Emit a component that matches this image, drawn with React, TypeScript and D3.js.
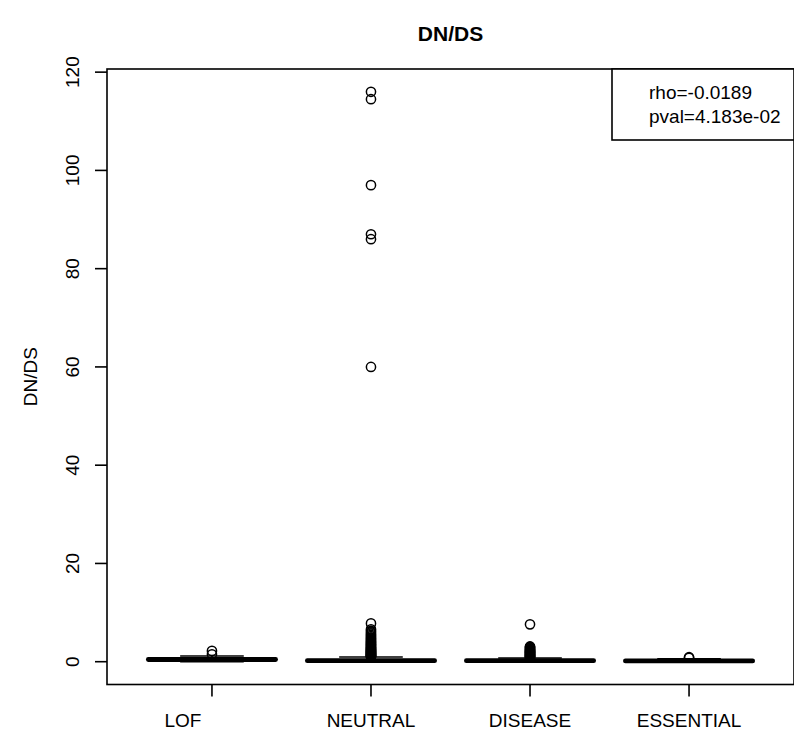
import React, { useEffect } from "react";
import * as d3 from "d3";

// Groups and their box statistics (DN/DS ratio)
const categories = ["LOF", "NEUTRAL", "DISEASE", "ESSENTIAL"];
const whiskerLow = [0.0, 0.0, 0.0, 0.0];
const quartile1 = [0.25, 0.08, 0.08, 0.06];
const medians = [0.45, 0.2, 0.2, 0.15];
const quartile3 = [0.65, 0.4, 0.35, 0.28];
const whiskerHigh = [1.15, 0.95, 0.75, 0.6];

// Outlying values per group
const outliersLOF = [2.2, 1.5];
const outliersNEUTRAL = [
  1.0, 1.08, 1.15, 1.22, 1.3, 1.38, 1.45, 1.52, 1.6, 1.7, 1.78, 1.85, 1.95,
  2.05, 2.15, 2.25, 2.32, 2.45, 2.55, 2.68, 2.8, 2.9, 3.05, 3.2, 3.35, 3.5,
  3.62, 3.8, 3.95, 4.1, 4.3, 4.5, 4.7, 4.95, 5.2, 5.45, 5.7, 6.0, 6.3, 6.6,
  7.8, 60.0, 86.0, 87.0, 97.0, 114.5, 116.0,
];
const outliersDISEASE = [
  0.85, 0.92, 1.0, 1.08, 1.15, 1.25, 1.35, 1.42, 1.5, 1.6, 1.7, 1.8, 1.9, 2.0,
  2.1, 2.2, 2.3, 2.42, 2.55, 2.7, 2.85, 3.0, 3.1, 7.6,
];
const outliersESSENTIAL = [0.8, 0.92];
const outliers = [outliersLOF, outliersNEUTRAL, outliersDISEASE, outliersESSENTIAL];

const yTicks = [0, 20, 40, 60, 80, 100, 120];
const legendLines = ["rho=-0.0189", "pval=4.183e-02"];
const title = "DN/DS";
const yLabel = "DN/DS";

const W = 794;
const H = 737;
const plot = { left: 107, right: 794, top: 69, bottom: 684.5 };
const font = "'Liberation Sans', Arial, Helvetica, sans-serif";

export default function App() {
  useEffect(() => {
    document.body.style.margin = "0";
  }, []);

  const n = categories.length;
  const xPad = 0.04 * n;
  const x = d3
    .scaleLinear()
    .domain([0.5 - xPad, n + 0.5 + xPad])
    .range([plot.left, plot.right]);

  const allVals = [...whiskerLow, ...whiskerHigh, ...outliers.flat()];
  const [ymin, ymax] = d3.extent(allVals) as [number, number];
  const yPad = 0.04 * (ymax - ymin);
  const y = d3
    .scaleLinear()
    .domain([ymin - yPad, ymax + yPad])
    .range([plot.bottom, plot.top]);

  const boxHalf = x(1.4) - x(1);
  const stapleHalf = boxHalf / 2;
  const sw = 1.6;

  const legendLeft = 612;
  const legendBottom = 140;

  // the first category label sits a little left of its tick
  const labelX = (i: number) => (i === 0 ? x(i + 1) - 29 : x(i + 1));

  return (
    <svg
      width={W}
      height={H}
      style={{ position: "absolute", left: 0, top: 0, background: "#fff" }}
      fontFamily={font}
    >
      <rect x={0} y={0} width={W} height={H} fill="#fff" />

      {/* title */}
      <text
        x={(plot.left + plot.right) / 2}
        y={41}
        textAnchor="middle"
        fontWeight="bold"
        fontSize={21}
      >
        {title}
      </text>

      {/* boxes */}
      {categories.map((c, i) => {
        const cx = x(i + 1);
        return (
          <g key={c} stroke="#000" fill="none">
            <line
              x1={cx}
              x2={cx}
              y1={y(quartile3[i])}
              y2={y(whiskerHigh[i])}
              strokeWidth={sw}
              strokeDasharray="6 4"
            />
            <line
              x1={cx}
              x2={cx}
              y1={y(quartile1[i])}
              y2={y(whiskerLow[i])}
              strokeWidth={sw}
              strokeDasharray="6 4"
            />
            <line
              x1={cx - stapleHalf}
              x2={cx + stapleHalf}
              y1={y(whiskerHigh[i])}
              y2={y(whiskerHigh[i])}
              strokeWidth={sw}
            />
            <line
              x1={cx - stapleHalf}
              x2={cx + stapleHalf}
              y1={y(whiskerLow[i])}
              y2={y(whiskerLow[i])}
              strokeWidth={sw}
            />
            <rect
              x={cx - boxHalf}
              width={boxHalf * 2}
              y={y(quartile3[i])}
              height={y(quartile1[i]) - y(quartile3[i])}
              strokeWidth={sw}
              fill="#fff"
            />
            <line
              x1={cx - boxHalf}
              x2={cx + boxHalf}
              y1={y(medians[i])}
              y2={y(medians[i])}
              strokeWidth={4.8}
              strokeLinecap="round"
            />
            {outliers[i].map((v, j) => (
              <circle key={j} cx={cx} cy={y(v)} r={4.6} strokeWidth={1.5} />
            ))}
          </g>
        );
      })}

      {/* plot frame */}
      <rect
        x={plot.left}
        y={plot.top}
        width={plot.right - plot.left}
        height={plot.bottom - plot.top}
        fill="none"
        stroke="#000"
        strokeWidth={1.6}
      />

      {/* y axis */}
      <g stroke="#000" strokeWidth={1.6}>
        {yTicks.map((t) => (
          <line key={t} x1={plot.left - 12} x2={plot.left} y1={y(t)} y2={y(t)} />
        ))}
      </g>
      {yTicks.map((t) => (
        <text
          key={t}
          transform={`translate(79,${y(t)}) rotate(-90)`}
          textAnchor="middle"
          fontSize={19}
        >
          {t}
        </text>
      ))}
      <text
        transform={`translate(37,${(plot.top + plot.bottom) / 2}) rotate(-90)`}
        textAnchor="middle"
        fontSize={19}
      >
        {yLabel}
      </text>

      {/* x axis */}
      <g stroke="#000" strokeWidth={1.6}>
        {categories.map((c, i) => (
          <line
            key={c}
            x1={x(i + 1)}
            x2={x(i + 1)}
            y1={plot.bottom}
            y2={plot.bottom + 12}
          />
        ))}
      </g>
      {categories.map((c, i) => (
        <text key={c} x={labelX(i)} y={727} textAnchor="middle" fontSize={19}>
          {c}
        </text>
      ))}

      {/* legend */}
      <rect
        x={legendLeft}
        y={plot.top}
        width={plot.right - legendLeft}
        height={legendBottom - plot.top}
        fill="#fff"
        stroke="#000"
        strokeWidth={1.6}
      />
      {legendLines.map((s, i) => (
        <text key={s} x={649} y={99 + i * 24} fontSize={19}>
          {s}
        </text>
      ))}
    </svg>
  );
}
